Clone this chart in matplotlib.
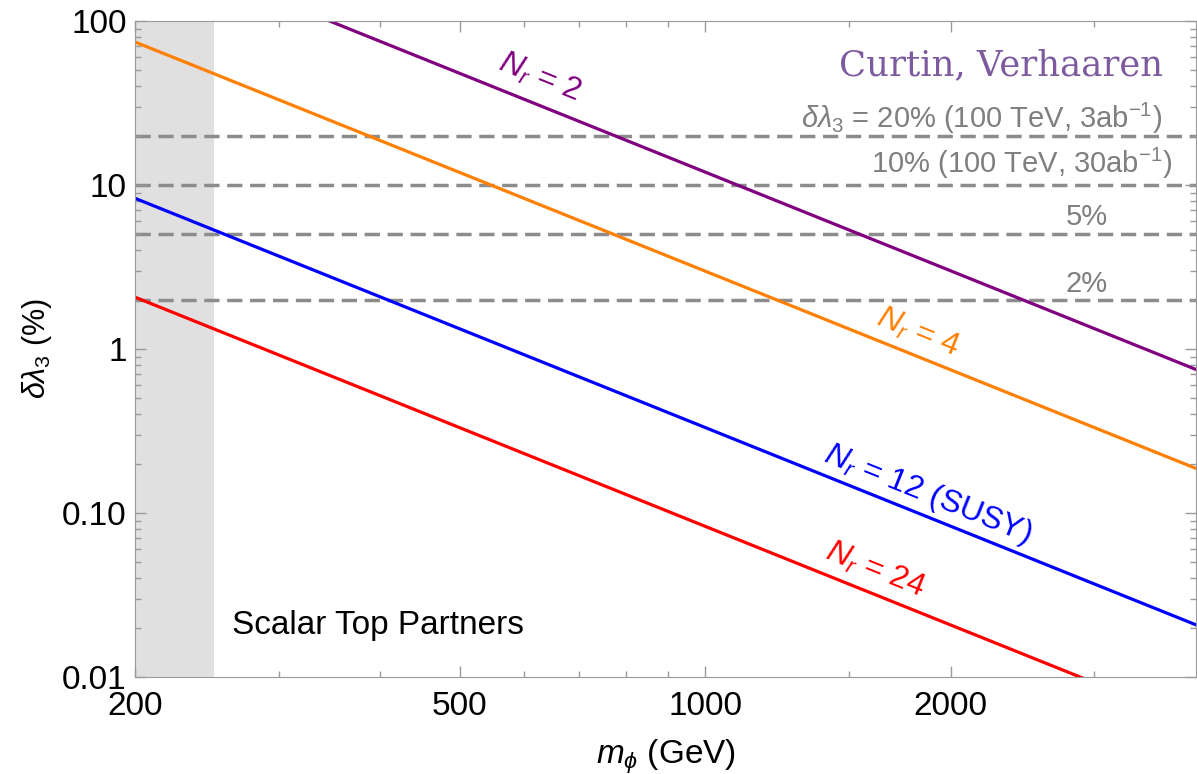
import numpy as np
import matplotlib
matplotlib.use("Agg")
import matplotlib.pyplot as plt
from matplotlib.ticker import FixedLocator, FixedFormatter, NullFormatter

# data (values at the plot's x-range ends)
mass = [200, 4000]
dl_nr2 = [300.0, 0.75]
dl_nr4 = [74.5, 0.187]
dl_nr12 = [8.3, 0.0208]
dl_nr24 = [2.07, 0.0052]

series = [
    (dl_nr2, "#800080", r"$N_r$ = 2", (628, 44.9)),
    (dl_nr4, "#ff8000", r"$N_r$ = 4", (1823, 1.25)),
    (dl_nr12, "#0000ff", r"$N_r$ = 12 (SUSY)", (1874, 0.1306)),
    (dl_nr24, "#ff0000", r"$N_r$ = 24", (1618, 0.0449)),
]

hline_vals = [20, 10, 5, 2]
excluded = [200, 250]

x_major = [200, 500, 1000, 2000]
x_minor = [300, 400, 600, 700, 800, 900, 1500, 3000]
y_major = [0.01, 0.1, 1, 10, 100]
y_labels = ["0.01", "0.10", "1", "10", "100"]

plt.rcParams['font.family'] = ['Liberation Sans', 'DejaVu Sans']
plt.rcParams['mathtext.fontset'] = 'custom'
plt.rcParams['mathtext.rm'] = 'Liberation Sans'
plt.rcParams['mathtext.it'] = 'Liberation Sans:italic'
plt.rcParams['mathtext.bf'] = 'Liberation Sans:bold'
plt.rcParams['lines.scale_dashes'] = False

fig = plt.figure(figsize=(11.97, 7.74), dpi=100)
ax = fig.add_axes([135 / 1197, 1 - 677 / 774, 1061 / 1197, 656 / 774])
ax.set_xscale('log')
ax.set_yscale('log')
ax.set_xlim(200, 4000)
ax.set_ylim(0.01, 100)

# shaded excluded region
ax.axvspan(excluded[0], excluded[1], color='#e0e0e0', lw=0, zorder=0)

# projected sensitivities
for v in hline_vals:
    ax.axhline(v, color='#8c8c8c', lw=2.5, linestyle=(0, (11, 5.5)), zorder=1)

for vals, col, lab, pos in series:
    ax.plot(mass, vals, color=col, lw=2.3, zorder=2)
    # label rotated along the line
    p0 = ax.transData.transform((mass[0], vals[0]))
    p1 = ax.transData.transform((mass[1], vals[1]))
    ang = np.degrees(np.arctan2(p1[1] - p0[1], p1[0] - p0[0]))
    ax.text(pos[0], pos[1], lab, color=col, fontsize=23, rotation=ang,
            rotation_mode='anchor', ha='center', va='center')

grey_txt = '#7f7f7f'
ax.text(0.968, 0.852, r"$\delta\lambda_3$ = 20% (100 TeV, 3ab$^{-1}$)",
        transform=ax.transAxes, ha='right', va='center', fontsize=21, color=grey_txt)
ax.text(0.978, 0.7835, r"10% (100 TeV, 30ab$^{-1}$)",
        transform=ax.transAxes, ha='right', va='center', fontsize=21, color=grey_txt)
ax.text(0.917, 0.701, "5%", transform=ax.transAxes, ha='right', va='center',
        fontsize=21, color=grey_txt)
ax.text(0.917, 0.599, "2%", transform=ax.transAxes, ha='right', va='center',
        fontsize=21, color=grey_txt)

ax.text(0.969, 0.933, "Curtin, Verhaaren", transform=ax.transAxes, ha='right',
        va='center', fontsize=25.5, color='#7d5a9f', family='DejaVu Serif')
ax.text(0.0914, 0.079, "Scalar Top Partners", transform=ax.transAxes, ha='left',
        va='center', fontsize=24, color='black')

ax.xaxis.set_major_locator(FixedLocator(x_major))
ax.xaxis.set_major_formatter(FixedFormatter([str(v) for v in x_major]))
ax.xaxis.set_minor_locator(FixedLocator(x_minor))
ax.xaxis.set_minor_formatter(NullFormatter())
ax.yaxis.set_major_locator(FixedLocator(y_major))
ax.yaxis.set_major_formatter(FixedFormatter(y_labels))

ax.tick_params(which='both', direction='in', top=True, right=True, color='#999999',
               labelsize=24, width=1)
ax.tick_params(which='major', length=8)
ax.tick_params(which='minor', length=4)
ax.tick_params(axis='x', pad=10)
ax.tick_params(axis='y', pad=6)
for s in ax.spines.values():
    s.set_color('#999999')

ax.set_xlabel(r"$m_\phi$ (GeV)", fontsize=24, labelpad=11)
ax.set_ylabel(r"$\delta\lambda_3$ (%)", fontsize=22, labelpad=6)

fig.savefig("out.png", dpi=100)
